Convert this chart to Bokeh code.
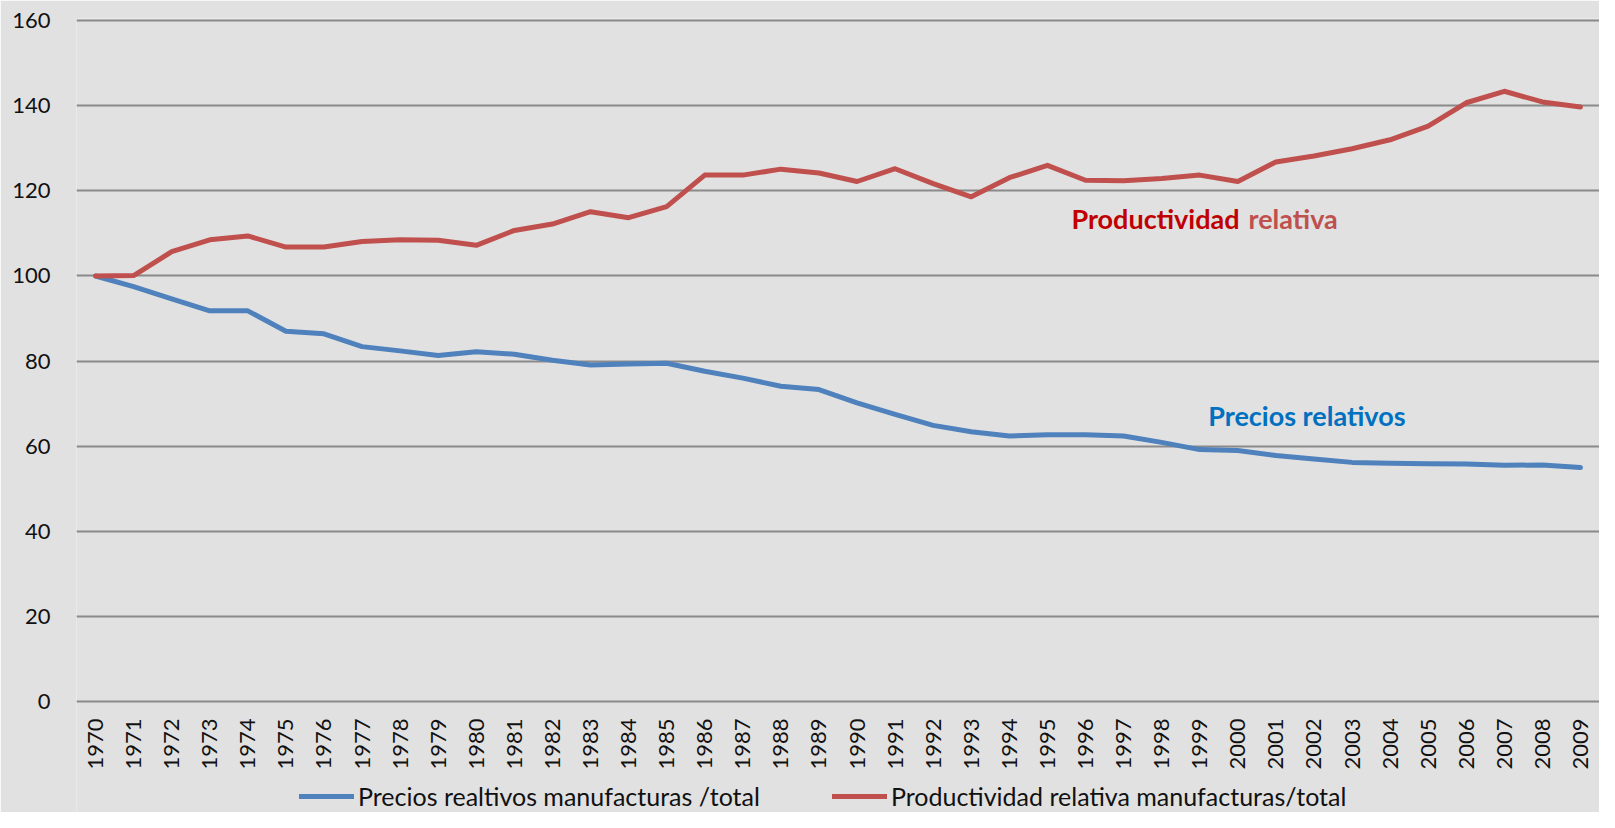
import math
from bokeh.plotting import figure
from bokeh.models import Range1d, FactorRange, FixedTicker, Legend, LegendItem
from bokeh.embed import file_html
from bokeh.resources import INLINE
from bokeh.core.properties import value

years = ["1970", "1971", "1972", "1973", "1974", "1975", "1976", "1977", "1978", "1979",
         "1980", "1981", "1982", "1983", "1984", "1985", "1986", "1987", "1988", "1989",
         "1990", "1991", "1992", "1993", "1994", "1995", "1996", "1997", "1998", "1999",
         "2000", "2001", "2002", "2003", "2004", "2005", "2006", "2007", "2008", "2009"]

precios = [100.0, 97.5, 94.6, 91.8, 91.8, 87.0, 86.4, 83.4, 82.4, 81.3,
           82.2, 81.6, 80.2, 79.1, 79.3, 79.5, 77.6, 76.0, 74.1, 73.3,
           70.2, 67.5, 64.9, 63.4, 62.4, 62.7, 62.7, 62.4, 60.9, 59.2,
           59.0, 57.8, 57.0, 56.2, 56.0, 55.9, 55.8, 55.5, 55.6, 55.0]

productividad = [100.0, 100.1, 105.7, 108.5, 109.4, 106.8, 106.8, 108.1, 108.5, 108.4,
                 107.2, 110.7, 112.2, 115.1, 113.7, 116.3, 123.7, 123.7, 125.1, 124.2,
                 122.2, 125.2, 121.7, 118.6, 123.1, 126.0, 122.5, 122.4, 122.9, 123.7,
                 122.2, 126.8, 128.2, 129.9, 132.0, 135.2, 140.7, 143.4, 140.9, 139.7]

y_ticks = [0, 20, 40, 60, 80, 100, 120, 140, 160]

legend_labels = ["Precios realtivos manufacturas /total",
                 "Productividad relativa manufacturas/total"]

BG = "#e1e1e1"
BLUE = "#4f81bd"
RED = "#c0504d"
FONT = "Lato"

# the frame reaches the bottom of the canvas so that the year labels and the
# legend (which sit below the value 0) stay inside it
p = figure(width=1599, height=812,
           x_range=FactorRange(factors=years),
           y_range=Range1d(-26.07, 160.5),
           output_backend="svg", toolbar_location=None,
           min_border_left=76, min_border_right=0,
           min_border_top=18, min_border_bottom=0)

p.background_fill_color = BG
p.border_fill_color = BG
p.outline_line_color = None

p.xgrid.grid_line_color = None
p.ygrid.ticker = FixedTicker(ticks=y_ticks)
p.ygrid.grid_line_color = "#8a8a8a"
p.ygrid.grid_line_width = 2

p.xaxis.visible = False
yax = p.yaxis[0]
yax.ticker = FixedTicker(ticks=y_ticks)
yax.axis_line_color = None
yax.major_tick_line_color = None
yax.minor_tick_line_color = None
yax.major_tick_in = 0
yax.major_tick_out = 0
yax.major_label_text_font = FONT
yax.major_label_text_font_size = "22px"
yax.major_label_text_color = "#111111"
yax.major_label_standoff = 26

r1 = p.line(years, precios, line_color=BLUE, line_width=5,
            line_join="round", line_cap="round")
r2 = p.line(years, productividad, line_color=RED, line_width=5,
            line_join="round", line_cap="round")

# category (year) labels, rotated, just under the 0 line
p.text(x=years, y=[-4.0] * len(years), text=years, angle=math.pi / 2,
       text_align="right", text_baseline="middle",
       text_font=value(FONT), text_font_size="22px", text_color="#111111")

# annotations
p.text(x=["2000"], y=[113.4], text=["Productividad"], x_offset=1.7,
       text_align="right", text_baseline="alphabetic",
       text_font=value(FONT), text_font_style="bold", text_font_size="27px",
       text_color="#c00000")
p.text(x=["2000"], y=[113.4], text=["relativa"], x_offset=10.7,
       text_align="left", text_baseline="alphabetic",
       text_font=value(FONT), text_font_style="bold", text_font_size="27px",
       text_color=RED)
p.text(x=["2001"], y=[67.1], text=["Precios relativos"], x_offset=31,
       text_align="center", text_baseline="alphabetic",
       text_font=value(FONT), text_font_style="bold", text_font_size="27px",
       text_color="#0070c0")

legend = Legend(items=[LegendItem(label=legend_labels[0], renderers=[r1]),
                       LegendItem(label=legend_labels[1], renderers=[r2])],
                orientation="horizontal", location=(223, 1),
                glyph_width=55, glyph_height=20, label_standoff=4, spacing=72,
                padding=0, margin=0,
                label_text_font=FONT, label_text_font_size="25px",
                label_text_color="#111111",
                background_fill_alpha=0, border_line_alpha=0)
p.add_layout(legend, "center")

html = file_html(p, INLINE)
html = html.replace("<body>", '<body style="background-color: #e1e1e1;">', 1)
open("out.html", "w").write(html)
